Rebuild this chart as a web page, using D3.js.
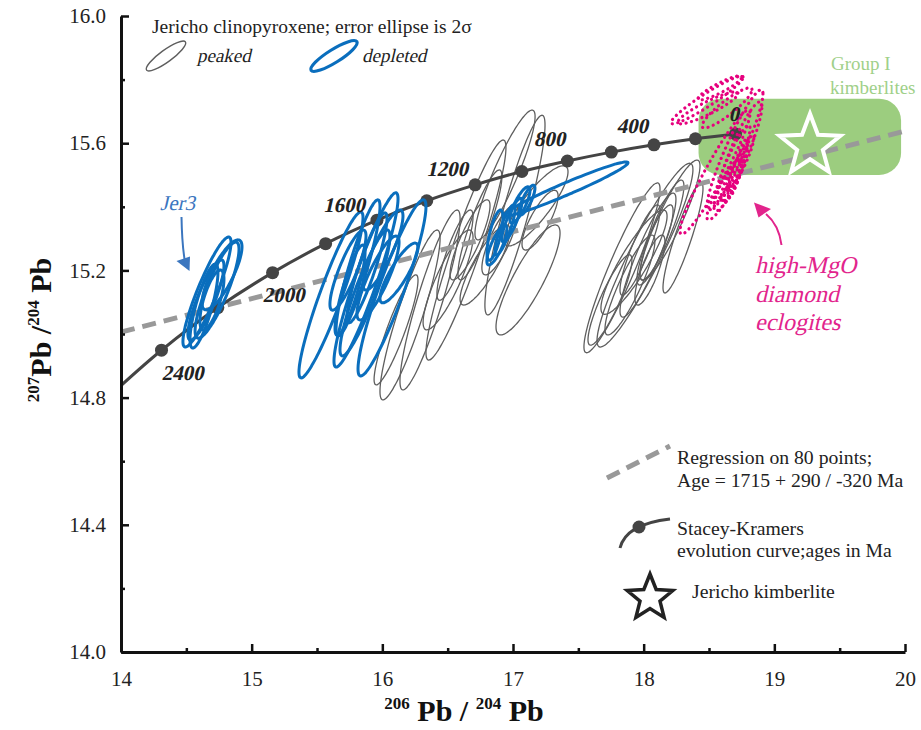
<!DOCTYPE html>
<html>
<head>
<meta charset="utf-8">
<script src="https://cdn.jsdelivr.net/npm/d3@7/dist/d3.min.js"></script>
<style>
  body { margin: 0; background: #fff; }
  text { font-family: "Liberation Serif", "Times New Roman", serif; }
</style>
</head>
<body>
<div id="chart"></div>
<script>
// ---- data ----------------------------------------------------------------
// Stacey-Kramers growth curve, ages in Ma
var skAges = [0, 200, 400, 600, 800, 1000, 1200, 1400, 1600, 1800, 2000, 2200, 2400];
var sk206  = [18.703, 18.396, 18.079, 17.753, 17.416, 17.068, 16.710, 16.340, 15.959, 15.566, 15.160, 14.741, 14.310];
var sk207  = [15.629, 15.614, 15.595, 15.572, 15.544, 15.511, 15.469, 15.419, 15.358, 15.284, 15.193, 15.083, 14.949];
var skLabelAges = [0, 400, 800, 1200, 1600, 2000, 2400];
var skStart = [14.0, 14.838];              // where the curve leaves the frame

// regression line on 80 points
var regX = [14, 20];
var regY = [15.006, 15.638];

// Group I kimberlite field and Jericho kimberlite
var groupX = [18.42, 19.97];
var groupY = [15.50, 15.74];
var jerichoKimb = [19.273, 15.592];

// error ellipses: [206Pb/204Pb, 207Pb/204Pb, half-width x, half-height y, correlation]
var peaked = [
  [16.212, 15.060, 0.230, 0.267, 0.90],
  [16.365, 15.107, 0.230, 0.283, 0.90],
  [16.640, 15.264, 0.306, 0.346, 0.93],
  [16.939, 15.500, 0.230, 0.204, 0.90],
  [17.015, 15.374, 0.230, 0.314, 0.90],
  [17.115, 15.170, 0.245, 0.173, 0.85],
  [16.671, 15.296, 0.153, 0.126, 0.85],
  [16.556, 15.248, 0.138, 0.142, 0.85],
  [16.747, 15.343, 0.168, 0.173, 0.88],
  [16.503, 15.170, 0.191, 0.157, 0.85],
  [16.900, 15.296, 0.138, 0.110, 0.80],
  [17.207, 15.358, 0.138, 0.094, 0.80],
  [16.105, 15.013, 0.168, 0.173, 0.90],
  [16.786, 15.217, 0.191, 0.126, 0.85],
  [17.176, 15.403, 0.245, 0.126, 0.85],
  [17.834, 15.208, 0.291, 0.267, 0.93],
  [18.010, 15.248, 0.367, 0.289, 0.93],
  [18.301, 15.302, 0.153, 0.173, 0.90],
  [18.033, 15.248, 0.214, 0.195, 0.90],
  [17.926, 15.226, 0.253, 0.164, 0.88],
  [17.972, 15.264, 0.153, 0.142, 0.88],
  [18.087, 15.280, 0.138, 0.126, 0.85],
  [17.895, 15.154, 0.191, 0.157, 0.88],
  [18.140, 15.327, 0.168, 0.157, 0.88],
  [17.742, 15.107, 0.168, 0.142, 0.88],
  [18.201, 15.358, 0.230, 0.189, 0.90],
  [18.048, 15.201, 0.115, 0.110, 0.80]
];
var depleted = [
  [14.658, 15.132, 0.184, 0.173, 0.90],
  [14.735, 15.138, 0.168, 0.151, 0.85],
  [14.650, 15.107, 0.138, 0.126, 0.85],
  [14.773, 15.186, 0.153, 0.110, 0.80],
  [14.635, 15.088, 0.107, 0.132, 0.80],
  [14.696, 15.107, 0.092, 0.094, 0.70],
  [15.607, 15.123, 0.245, 0.261, 0.93],
  [15.875, 15.170, 0.245, 0.274, 0.93],
  [16.074, 15.145, 0.260, 0.277, 0.92],
  [15.814, 15.208, 0.168, 0.214, 0.90],
  [15.737, 15.201, 0.138, 0.126, 0.85],
  [16.127, 15.192, 0.145, 0.094, 0.85],
  [15.867, 15.129, 0.191, 0.198, 0.90],
  [15.883, 15.208, 0.153, 0.173, 0.90],
  [15.967, 15.176, 0.161, 0.132, 0.85],
  [15.753, 15.138, 0.115, 0.142, 0.85],
  [16.005, 15.264, 0.153, 0.126, 0.85],
  [17.406, 15.456, 0.474, 0.085, 0.97],
  [16.877, 15.280, 0.077, 0.063, 0.80],
  [16.939, 15.327, 0.077, 0.079, 0.85],
  [16.992, 15.358, 0.077, 0.069, 0.85],
  [16.862, 15.311, 0.061, 0.079, 0.70],
  [17.053, 15.406, 0.077, 0.057, 0.80],
  [17.107, 15.421, 0.061, 0.047, 0.80]
];
var eclogites = [
  [18.485, 15.736, 0.276, 0.075, 0.95],
  [18.584, 15.774, 0.168, 0.038, 0.90],
  [18.492, 15.711, 0.230, 0.050, 0.90],
  [18.699, 15.579, 0.214, 0.189, 0.93],
  [18.546, 15.509, 0.268, 0.195, 0.95],
  [18.737, 15.579, 0.168, 0.151, 0.90],
  [18.699, 15.500, 0.092, 0.088, 0.90],
  [18.722, 15.522, 0.077, 0.094, 0.90],
  [18.668, 15.484, 0.077, 0.069, 0.85],
  [18.752, 15.547, 0.092, 0.079, 0.90],
  [18.645, 15.469, 0.107, 0.082, 0.85],
  [18.707, 15.509, 0.061, 0.057, 0.80],
  [18.622, 15.453, 0.138, 0.094, 0.90],
  [18.676, 15.531, 0.138, 0.126, 0.92],
  [18.638, 15.711, 0.191, 0.063, 0.90]
];

var xTicks = [14, 15, 16, 17, 18, 19, 20];
var xMinor = [14.5, 15.5, 16.5, 17.5, 18.5, 19.5];
var yTicks = [14.0, 14.4, 14.8, 15.2, 15.6, 16.0];
var yMinor = [14.2, 14.6, 15.0, 15.4, 15.8];

// ---- layout ----------------------------------------------------------------
var chartW = 921, chartH = 730;
var padL = 121, padR = 905, padT = 16, padB = 652;
var SKEW = -13;   // the serif italic face is not installed, so slant the upright one

var x = d3.scaleLinear().domain([14, 20]).range([padL, padR]);
var y = d3.scaleLinear().domain([14, 16]).range([padB, padT]);

var svg = d3.select("#chart").append("svg")
    .attr("width", chartW)
    .attr("height", chartH);

svg.append("defs").append("clipPath").attr("id", "plot")
   .append("rect").attr("x", padL).attr("y", padT)
   .attr("width", padR - padL).attr("height", padB - padT);

var plot = svg.append("g").attr("clip-path", "url(#plot)");

// green kimberlite field
plot.append("rect")
    .attr("x", x(groupX[0])).attr("y", y(groupY[1]))
    .attr("width", x(groupX[1]) - x(groupX[0]))
    .attr("height", y(groupY[0]) - y(groupY[1]))
    .attr("rx", 22).attr("ry", 22)
    .style("fill", "#9ccd7f");

// ellipse outline from bounding half-widths and correlation
function ellipsePoints(e)
{
    var pts = [];
    var s = Math.sqrt(1 - e[4] * e[4]);
    for (var i = 0; i < 90; i++)
    {
        var t = i / 90 * 2 * Math.PI;
        pts.push([x(e[0] + e[2] * Math.cos(t)),
                  y(e[1] + e[3] * (e[4] * Math.cos(t) + s * Math.sin(t)))]);
    }
    return pts;
}
var ellipseLine = d3.line().curve(d3.curveCardinalClosed);

plot.selectAll(".peaked")
    .data(peaked)
    .enter().append("path")
    .attr("class", "peaked")
    .attr("d", function(d) { return ellipseLine(ellipsePoints(d)); })
    .style("fill", "none")
    .style("stroke", "#5e5e5e")
    .style("stroke-width", 1.3);

// regression
plot.append("line")
    .attr("x1", x(regX[0])).attr("y1", y(regY[0]))
    .attr("x2", x(regX[1])).attr("y2", y(regY[1]))
    .style("stroke", "#999")
    .style("stroke-width", 5)
    .style("stroke-dasharray", "14 8");

// Stacey-Kramers curve
var skPts = [[x(skStart[0]), y(skStart[1])]];
for (var i = skAges.length - 1; i >= 0; i--) skPts.push([x(sk206[i]), y(sk207[i])]);
plot.append("path")
    .attr("d", d3.line().curve(d3.curveCatmullRom)(skPts))
    .style("fill", "none")
    .style("stroke", "#444")
    .style("stroke-width", 3);

plot.selectAll(".skdot")
    .data(skAges)
    .enter().append("circle")
    .attr("class", "skdot")
    .attr("cx", function(d, i) { return x(sk206[i]); })
    .attr("cy", function(d, i) { return y(sk207[i]); })
    .attr("r", 6.5)
    .style("fill", "#444");

plot.selectAll(".depleted")
    .data(depleted)
    .enter().append("path")
    .attr("class", "depleted")
    .attr("d", function(d) { return ellipseLine(ellipsePoints(d)); })
    .style("fill", "none")
    .style("stroke", "#0a6ebd")
    .style("stroke-width", 3);

plot.selectAll(".eclogite")
    .data(eclogites)
    .enter().append("path")
    .attr("class", "eclogite")
    .attr("d", function(d) { return ellipseLine(ellipsePoints(d)); })
    .style("fill", "none")
    .style("stroke", "#e6007e")
    .style("stroke-width", 3.2)
    .style("stroke-linecap", "round")
    .style("stroke-dasharray", "0.1 5.5");

// star shape
function starPath(cx, cy, R, r)
{
    var p = d3.path();
    for (var k = 0; k < 10; k++)
    {
        var a = -Math.PI / 2 + k * Math.PI / 5;
        var rr = (k % 2 === 0) ? R : r;
        if (k === 0) p.moveTo(cx + rr * Math.cos(a), cy + rr * Math.sin(a));
        else p.lineTo(cx + rr * Math.cos(a), cy + rr * Math.sin(a));
    }
    p.closePath();
    return p.toString();
}
plot.append("path")
    .attr("d", starPath(x(jerichoKimb[0]), y(jerichoKimb[1]), 32, 13.5))
    .style("fill", "none")
    .style("stroke", "#fff")
    .style("stroke-width", 4)
    .style("stroke-linejoin", "miter");

// slanted text helper
function slanted(px, py, str, size, color, weight, anchor)
{
    return svg.append("text")
        .attr("transform", "translate(" + px + "," + py + ") skewX(" + SKEW + ")")
        .attr("text-anchor", anchor || "start")
        .style("font-size", size + "px")
        .style("font-weight", weight || "normal")
        .style("fill", color)
        .text(str);
}

// age labels on the growth curve
var labelOff = {0: [-7, -13, "start"], 400: [-6, -12, "end"], 800: [-2, -15, "end"],
                1200: [-7, -9, "end"], 1600: [-12, -8, "end"], 2000: [-10, 29, "start"],
                2400: [0, 30, "start"]};
skLabelAges.forEach(function(a) {
    var k = skAges.indexOf(a);
    slanted(x(sk206[k]) + labelOff[a][0], y(sk207[k]) + labelOff[a][1],
            a, 21, "#222", "bold", labelOff[a][2]);
});

// ---- axes -----------------------------------------------------------------
svg.append("g")
    .attr("transform", "translate(0," + padB + ")")
    .call(d3.axisBottom(x).tickValues(xTicks).tickSize(-8).tickSizeOuter(0)
          .tickPadding(19).tickFormat(d3.format("d")));
svg.append("g")
    .attr("transform", "translate(0," + padB + ")")
    .call(d3.axisBottom(x).tickValues(xMinor).tickSize(-4).tickFormat(""))
    .select(".domain").remove();

svg.append("g")
    .attr("transform", "translate(" + padL + ",0)")
    .call(d3.axisLeft(y).tickValues(yTicks).tickSize(-8).tickSizeOuter(0)
          .tickPadding(15).tickFormat(d3.format(".1f")));
svg.append("g")
    .attr("transform", "translate(" + padL + ",0)")
    .call(d3.axisLeft(y).tickValues(yMinor).tickSize(-4).tickFormat(""))
    .select(".domain").remove();

svg.selectAll(".domain").style("stroke", "#111").style("stroke-width", 3);
svg.selectAll(".tick line").style("stroke", "#111").style("stroke-width", 2.5);
svg.selectAll(".tick text")
    .style("font-family", "'Liberation Serif', serif")
    .style("font-size", "21px")
    .style("fill", "#222");

// axis titles
var xt = svg.append("text")
    .attr("x", 464).attr("y", 721)
    .attr("text-anchor", "middle")
    .style("font-weight", "bold").style("fill", "#111");
xt.append("tspan").style("font-size", "17px").attr("dy", -12).text("206");
xt.append("tspan").style("font-size", "30px").attr("dy", 12).text(" Pb / ");
xt.append("tspan").style("font-size", "17px").attr("dy", -12).text("204");
xt.append("tspan").style("font-size", "30px").attr("dy", 12).text(" Pb");

var yt = svg.append("text")
    .attr("transform", "translate(51,330) rotate(-90)")
    .attr("text-anchor", "middle")
    .style("font-weight", "bold").style("fill", "#111");
yt.append("tspan").style("font-size", "17px").attr("dy", -12).text("207");
yt.append("tspan").style("font-size", "30px").attr("dy", 12).text("Pb /");
yt.append("tspan").style("font-size", "17px").attr("dy", -12).text("204");
yt.append("tspan").style("font-size", "30px").attr("dy", 12).text(" Pb");

// ---- annotations and legends ---------------------------------------------------
svg.append("text").attr("x", 152).attr("y", 33)
    .style("font-size", "19.5px").style("fill", "#222")
    .text("Jericho clinopyroxene; error ellipse is 2\u03c3");
svg.append("ellipse").attr("transform", "translate(166,56) rotate(-36)")
    .attr("rx", 24).attr("ry", 6)
    .style("fill", "none").style("stroke", "#5e5e5e").style("stroke-width", 1.4);
slanted(197, 62, "peaked", 19, "#222");
svg.append("ellipse").attr("transform", "translate(334,56) rotate(-32)")
    .attr("rx", 27).attr("ry", 6.5)
    .style("fill", "none").style("stroke", "#0a6ebd").style("stroke-width", 3.2);
slanted(362, 62, "depleted", 19, "#222");

svg.append("text").attr("x", 831).attr("y", 70)
    .style("font-size", "19px").style("fill", "#9fd089").text("Group I");
svg.append("text").attr("x", 830).attr("y", 94)
    .style("font-size", "19px").style("fill", "#9fd089").text("kimberlites");

// Jer3 label and arrow
slanted(160, 210, "Jer3", 21, "#3b76bf");
svg.append("path").attr("d", "M181.5,217 Q182,245 185,262")
    .style("fill", "none").style("stroke", "#3b76bf").style("stroke-width", 2);
svg.append("path").attr("d", "M176.5,261 L190,256.5 L189.5,271 Z")
    .style("fill", "#3b76bf");

// eclogite label and arrow
svg.append("path").attr("d", "M781.5,245 Q779,225 766,214")
    .style("fill", "none").style("stroke", "#e2248c").style("stroke-width", 2);
svg.append("path").attr("d", "M754,202.5 L771,209 L758.5,217.5 Z")
    .style("fill", "#e2248c");
var eclLines = ["high-MgO", "diamond", "eclogites"];
eclLines.forEach(function(s, i) {
    slanted(755, 273 + i * 28.5, s, 24, "#e2248c");
});

// right-hand legend
var legendFont = "19.7px";
svg.append("line").attr("x1", 607).attr("y1", 478).attr("x2", 670).attr("y2", 446)
    .style("stroke", "#999").style("stroke-width", 5).style("stroke-dasharray", "14 8");
svg.append("text").attr("x", 677).attr("y", 464)
    .style("font-size", legendFont).style("fill", "#222").text("Regression on 80 points;");
svg.append("text").attr("x", 677).attr("y", 487)
    .style("font-size", legendFont).style("fill", "#222").text("Age = 1715 + 290 / -320 Ma");

svg.append("path").attr("d", "M620,548 Q626,524 670,519")
    .style("fill", "none").style("stroke", "#444").style("stroke-width", 3);
svg.append("circle").attr("cx", 639).attr("cy", 527).attr("r", 6.5).style("fill", "#444");
svg.append("text").attr("x", 677).attr("y", 535)
    .style("font-size", legendFont).style("fill", "#222").text("Stacey-Kramers");
svg.append("text").attr("x", 677).attr("y", 557)
    .style("font-size", legendFont).style("fill", "#222").text("evolution curve;ages in Ma");

svg.append("path").attr("d", starPath(650, 598, 24, 10.5))
    .style("fill", "#fff").style("stroke", "#222").style("stroke-width", 3.5);
svg.append("text").attr("x", 692).attr("y", 598)
    .style("font-size", legendFont).style("fill", "#222").text("Jericho kimberlite");
</script>
</body>
</html>
